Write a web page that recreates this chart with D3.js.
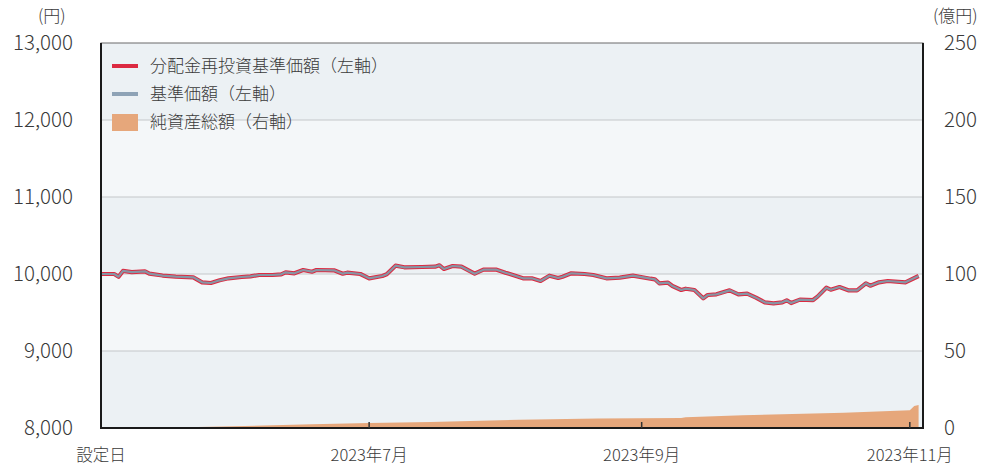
<!DOCTYPE html>
<html lang="ja">
	<head>
		<meta charset="utf-8">
		<title>基準価額・純資産総額の推移</title>
		<script type="text/javascript" src="https://cdn.jsdelivr.net/npm/d3@7"></script>
		<style type="text/css">
			body { margin: 0; background: #fff; }
			text { font-family: "Noto Sans CJK JP", "Noto Sans", sans-serif; font-weight: 300; fill: #3a3a3a; }
		</style>
	</head>
	<body>
		<script type="text/javascript">
			//Width and height
			var w = 984;
			var h = 469;
			var margin = { top: 43, right: 61, bottom: 41, left: 101 };

			//NAV (yen)
			var navDates = [
				"2023-05-01", "2023-05-04", "2023-05-05", "2023-05-06", "2023-05-08", "2023-05-11",
				"2023-05-12", "2023-05-15", "2023-05-18", "2023-05-22", "2023-05-24", "2023-05-26",
				"2023-05-28", "2023-05-30", "2023-06-02", "2023-06-04", "2023-06-06", "2023-06-09",
				"2023-06-11", "2023-06-12", "2023-06-14", "2023-06-16", "2023-06-18", "2023-06-19",
				"2023-06-23", "2023-06-25", "2023-06-26", "2023-06-29", "2023-07-01", "2023-07-04",
				"2023-07-05", "2023-07-07", "2023-07-09", "2023-07-13", "2023-07-16", "2023-07-17",
				"2023-07-18", "2023-07-20", "2023-07-22", "2023-07-25", "2023-07-27", "2023-07-30",
				"2023-08-01", "2023-08-02", "2023-08-05", "2023-08-07", "2023-08-09", "2023-08-11",
				"2023-08-13", "2023-08-14", "2023-08-16", "2023-08-19", "2023-08-21", "2023-08-24",
				"2023-08-27", "2023-08-30", "2023-09-03", "2023-09-04", "2023-09-05", "2023-09-07",
				"2023-09-08", "2023-09-10", "2023-09-11", "2023-09-13", "2023-09-15", "2023-09-16",
				"2023-09-18", "2023-09-21", "2023-09-23", "2023-09-25", "2023-09-27", "2023-09-29",
				"2023-10-01", "2023-10-03", "2023-10-04", "2023-10-05", "2023-10-07", "2023-10-10",
				"2023-10-11", "2023-10-13", "2023-10-14", "2023-10-16", "2023-10-18", "2023-10-20",
				"2023-10-22", "2023-10-23", "2023-10-25", "2023-10-27", "2023-10-31", "2023-11-03"
			];
			var reinvestNav = [
				10000, 10000, 9965, 10040, 10025, 10035,
				10005, 9980, 9965, 9957, 9892, 9883,
				9918, 9944, 9961, 9970, 9987, 9987,
				9996, 10022, 10009, 10052, 10030, 10052,
				10048, 10004, 10017, 10000, 9944, 9974,
				9996, 10108, 10087, 10091, 10095, 10113,
				10065, 10104, 10095, 10004, 10056, 10056,
				10017, 10000, 9944, 9944, 9909, 9978,
				9948, 9965, 10009, 10000, 9987, 9944,
				9952, 9978, 9939, 9931, 9879, 9887,
				9844, 9792, 9809, 9792, 9684, 9727,
				9736, 9788, 9736, 9745, 9693, 9632,
				9619, 9632, 9658, 9623, 9667, 9662,
				9706, 9822, 9796, 9831, 9788, 9788,
				9879, 9848, 9892, 9909, 9892, 9974
			];
			//no distributions so far: both lines carry the same values
			var nav = reinvestNav.slice();

			//Net assets (100 million yen)
			var assetDates = [
				"2023-05-01", "2023-05-15", "2023-05-31", "2023-06-18", "2023-07-01", "2023-07-15",
				"2023-08-04", "2023-08-22", "2023-09-10", "2023-09-11", "2023-09-24", "2023-10-17",
				"2023-11-01", "2023-11-02", "2023-11-03"
			];
			var netAssets = [
				0, 0.1, 1.1, 2.4, 3.2, 3.9,
				5.4, 6.2, 6.5, 7.0, 8.2, 9.9,
				11.5, 14.3, 14.9
			];

			//Axis ticks
			var leftTicks = [8000, 9000, 10000, 11000, 12000, 13000];
			var rightTicks = [0, 50, 100, 150, 200, 250];
			var xTickDates = ["2023-05-01", "2023-07-01", "2023-09-01", "2023-11-01"];
			var xTickLabels = ["設定日", "2023年7月", "2023年9月", "2023年11月"];

			var parse = d3.timeParse("%Y-%m-%d");

			//Create SVG element
			var svg = d3.select("body")
						.append("svg")
						.attr("width", w)
						.attr("height", h);

			var x = d3.scaleTime()
					  .domain([parse("2023-05-01"), parse("2023-11-04")])
					  .range([margin.left, w - margin.right]);
			var yLeft = d3.scaleLinear()
						  .domain([8000, 13000])
						  .range([h - margin.bottom, margin.top]);
			var yRight = d3.scaleLinear()
						   .domain([0, 250])
						   .range([h - margin.bottom, margin.top]);

			//alternating bands
			svg.selectAll("rect.band")
			   .data(d3.pairs(leftTicks))
			   .enter()
			   .append("rect")
			   .attr("class", "band")
			   .attr("x", margin.left)
			   .attr("y", function(d) { return yLeft(d[1]); })
			   .attr("width", w - margin.left - margin.right)
			   .attr("height", function(d) { return yLeft(d[0]) - yLeft(d[1]); })
			   .attr("fill", function(d, i) { return i % 2 == 0 ? "#ecf1f4" : "#f4f7f9"; });

			//gridlines
			svg.selectAll("line.grid")
			   .data(leftTicks.slice(1, -1))
			   .enter()
			   .append("line")
			   .attr("x1", margin.left)
			   .attr("x2", w - margin.right)
			   .attr("y1", function(d) { return yLeft(d); })
			   .attr("y2", function(d) { return yLeft(d); })
			   .attr("stroke", "#c4c7ca")
			   .attr("stroke-width", 1.2);

			//net assets area
			var assetData = assetDates.map(function(d, i) {
				return { date: parse(d), value: netAssets[i] };
			});
			svg.append("path")
			   .datum(assetData)
			   .attr("fill", "#e6a77b")
			   .attr("d", d3.area()
					.x(function(d) { return x(d.date); })
					.y0(yRight(0))
					.y1(function(d) { return yRight(d.value); }));

			//NAV lines
			var line = d3.line()
						 .x(function(d) { return x(d.date); })
						 .y(function(d) { return yLeft(d.value); });
			var reinvestData = navDates.map(function(d, i) {
				return { date: parse(d), value: reinvestNav[i] };
			});
			var navData = navDates.map(function(d, i) {
				return { date: parse(d), value: nav[i] };
			});
			svg.append("path")
			   .datum(reinvestData)
			   .attr("fill", "none")
			   .attr("stroke", "#dc2a41")
			   .attr("stroke-width", 4.2)
			   .attr("stroke-linejoin", "round")
			   .attr("d", line);
			svg.append("path")
			   .datum(navData)
			   .attr("fill", "none")
			   .attr("stroke", "#8796a5")
			   .attr("stroke-width", 2.2)
			   .attr("stroke-linejoin", "round")
			   .attr("d", line);

			//frame
			svg.append("rect")
			   .attr("x", margin.left)
			   .attr("y", margin.top)
			   .attr("width", w - margin.left - margin.right)
			   .attr("height", h - margin.top - margin.bottom)
			   .attr("fill", "none")
			   .attr("stroke", "#6b6b6b")
			   .attr("stroke-width", 1);
			svg.append("path")
			   .attr("d", "M" + margin.left + "," + margin.top + "V" + (h - margin.bottom) + "H" + (w - margin.right) + "V" + margin.top)
			   .attr("fill", "none")
			   .attr("stroke", "#1a1a1a")
			   .attr("stroke-width", 2);

			//bottom ticks
			svg.selectAll("line.xtick")
			   .data(xTickDates.slice(1))
			   .enter()
			   .append("line")
			   .attr("x1", function(d) { return x(parse(d)); })
			   .attr("x2", function(d) { return x(parse(d)); })
			   .attr("y1", h - margin.bottom)
			   .attr("y2", h - margin.bottom - 6)
			   .attr("stroke", "#333")
			   .attr("stroke-width", 1.5);

			//axis labels
			svg.selectAll("text.xlab")
			   .data(xTickDates)
			   .enter()
			   .append("text")
			   .text(function(d, i) { return xTickLabels[i]; })
			   .attr("text-anchor", "middle")
			   .attr("x", function(d) { return x(parse(d)); })
			   .attr("y", 461)
			   .attr("font-size", "16.5px");

			svg.selectAll("text.ylab")
			   .data(leftTicks)
			   .enter()
			   .append("text")
			   .text(function(d) { return d3.format(",")(d); })
			   .attr("text-anchor", "end")
			   .attr("x", 73)
			   .attr("y", function(d) { return yLeft(d) + 7; })
			   .attr("font-size", "20.5px");

			svg.selectAll("text.rlab")
			   .data(rightTicks)
			   .enter()
			   .append("text")
			   .text(function(d) { return d; })
			   .attr("text-anchor", "start")
			   .attr("x", 944)
			   .attr("y", function(d) { return yRight(d) + 7; })
			   .attr("font-size", "20.5px");

			svg.append("text")
			   .text("(円)")
			   .attr("x", 38)
			   .attr("y", 22)
			   .attr("font-size", "17px");
			svg.append("text")
			   .text("(億円)")
			   .attr("x", 933)
			   .attr("y", 22)
			   .attr("font-size", "17px");

			//legend
			var legend = [
				{ label: "分配金再投資基準価額（左軸）", color: "#dc2a41", type: "line" },
				{ label: "基準価額（左軸）", color: "#8ea3b6", type: "line" },
				{ label: "純資産総額（右軸）", color: "#e6a77b", type: "rect" }
			];
			var lg = svg.selectAll("g.legend")
						.data(legend)
						.enter()
						.append("g")
						.attr("transform", function(d, i) { return "translate(112," + (66 + i * 28) + ")"; });
			lg.append("rect")
			  .attr("x", 0)
			  .attr("y", function(d) { return d.type == "line" ? -2 : -8; })
			  .attr("width", 26)
			  .attr("height", function(d) { return d.type == "line" ? 4 : 17; })
			  .attr("fill", function(d) { return d.color; });
			lg.append("text")
			  .text(function(d) { return d.label; })
			  .attr("x", 38)
			  .attr("y", 6)
			  .attr("font-size", "17px");
		</script>
	</body>
</html>
